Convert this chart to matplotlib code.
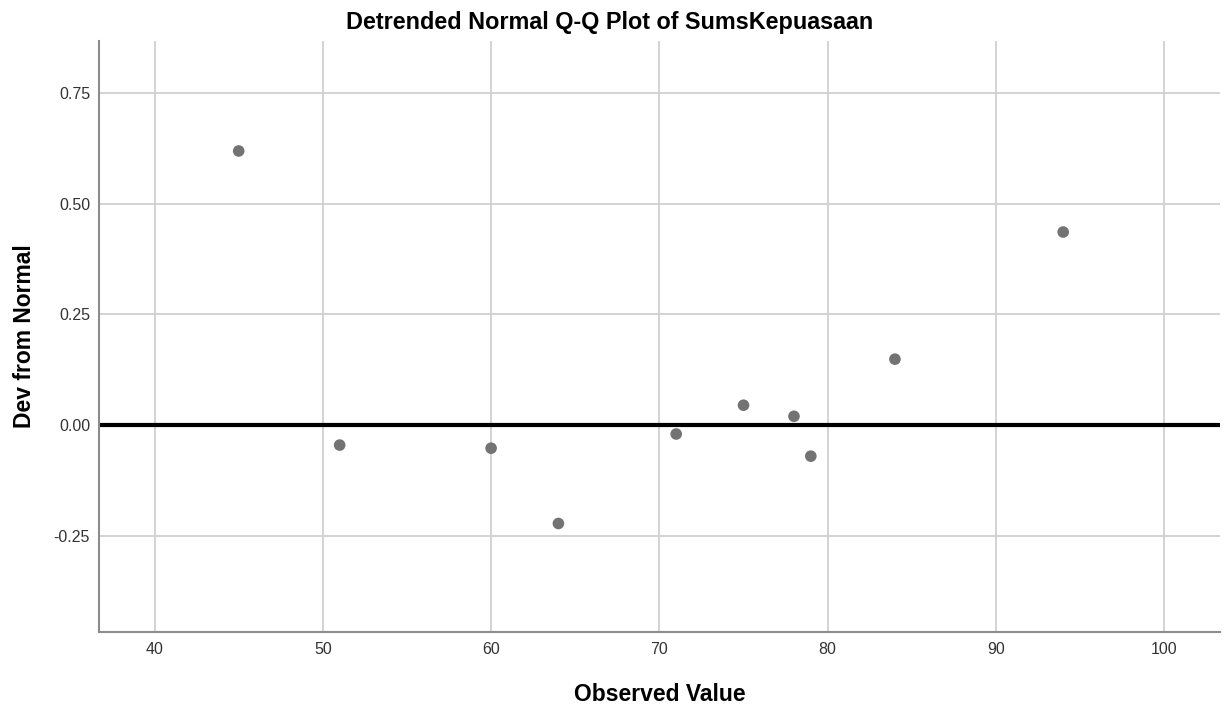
import matplotlib
matplotlib.use("Agg")
import matplotlib.pyplot as plt

plt.rcParams["font.family"] = ["Liberation Sans", "DejaVu Sans"]

# observed values and their deviation from normal
observed = [45, 51, 60, 64, 71, 75, 78, 79, 84, 94]
deviation = [0.619, -0.045, -0.052, -0.222, -0.020, 0.045, 0.020, -0.070, 0.149, 0.436]

x_ticks = [40, 50, 60, 70, 80, 90, 100]
y_ticks = [-0.25, 0.00, 0.25, 0.50, 0.75]
y_tick_labels = ["-0.25", "0.00", "0.25", "0.50", "0.75"]

fig = plt.figure(figsize=(12.32, 7.09), dpi=100)
ax = fig.add_axes([0.0804, 0.1086, 0.9096, 0.8334])

ax.set_xlim(36.7, 103.3)
ax.set_ylim(-0.467, 0.867)

ax.set_xticks(x_ticks)
ax.set_yticks(y_ticks)
ax.set_yticklabels(y_tick_labels)
ax.tick_params(length=0, labelsize=11.5, colors="#333333")
ax.tick_params(axis="x", pad=7)
ax.tick_params(axis="y", pad=6.5)

ax.grid(True, color="#d0d0d0", linewidth=1.3, zorder=0)
ax.set_axisbelow(True)

for side in ["top", "right"]:
    ax.spines[side].set_visible(False)
for side in ["left", "bottom"]:
    ax.spines[side].set_color("#8c8c8c")
    ax.spines[side].set_linewidth(1.5)

ax.axhline(0, color="black", linewidth=3, zorder=2)
ax.scatter(observed, deviation, s=70, color="#737373", edgecolors="none", zorder=3)

fig.text(0.495, 1 - 29 / 709, "Detrended Normal Q-Q Plot of SumsKepuasaan",
         ha="center", va="baseline", fontsize=16.8, fontweight="bold")

ax.set_xlabel("Observed Value", fontsize=16.5, fontweight="bold")
ax.set_ylabel("Dev from Normal", fontsize=16.5, fontweight="bold")
ax.xaxis.set_label_coords(0.5, -0.086)
ax.yaxis.set_label_coords(-0.0565, 0.5)

fig.savefig("out.png", dpi=100)
